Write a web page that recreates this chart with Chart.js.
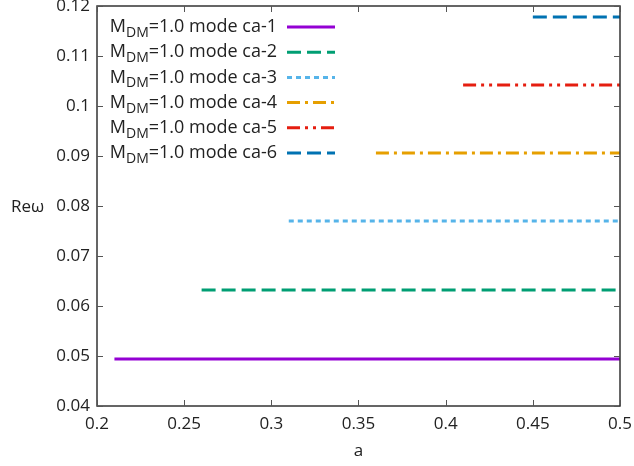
<!DOCTYPE html>
<html>
<head>
<meta charset="utf-8">
<script src="https://cdn.jsdelivr.net/npm/chart.js@4.4.0/dist/chart.umd.min.js"></script>
<style>
  html, body { margin: 0; padding: 0; background: #fff; }
  #wrap { width: 634px; height: 466px; }
</style>
</head>
<body>
<div id="wrap"><canvas id="modeChart" width="634" height="466"></canvas></div>
<script>
// Re(omega) of modes ca-1 .. ca-6 for M_DM = 1.0, vs a
const modeNames = ['ca-1', 'ca-2', 'ca-3', 'ca-4', 'ca-5', 'ca-6'];
const startA = [0.21, 0.26, 0.31, 0.36, 0.41, 0.45];
const endA = [0.5, 0.5, 0.5, 0.5, 0.5, 0.5];
const reOmega = [0.0494, 0.0632, 0.0770, 0.0906, 0.1042, 0.1178];

const xTicks = [0.2, 0.25, 0.3, 0.35, 0.4, 0.45, 0.5];
const yTicks = [0.04, 0.05, 0.06, 0.07, 0.08, 0.09, 0.1, 0.11, 0.12];

const colors = ['#9400d3', '#009e73', '#56b4e9', '#e69f00', '#e51e10', '#0072b2'];
const dashes = [[], [14, 6], [5, 4], [13, 5, 3, 5], [13, 5, 3, 5, 3, 5], [14, 6]];

const FONT = '"Open Sans", "Noto Sans", sans-serif';

let datasets = modeNames.map((name, i) => ({
    label: 'M_DM=1.0 mode ' + name,
    data: [{ x: startA[i], y: reOmega[i] }, { x: endA[i], y: reOmega[i] }],
    borderColor: colors[i],
    borderWidth: 3,
    borderDash: dashes[i],
    pointRadius: 0,
    fill: false
}));

// frame, inward ticks (gnuplot style), legend with subscripts, y title
const gnuplotLook = {
    id: 'gnuplotLook',
    afterDraw(chart) {
        let ctx = chart.ctx;
        let area = chart.chartArea;
        let xs = chart.scales.x;
        let ys = chart.scales.y;
        ctx.save();
        ctx.strokeStyle = '#333';
        ctx.lineWidth = 1.5;
        ctx.setLineDash([]);
        ctx.strokeRect(area.left, area.top, area.right - area.left, area.bottom - area.top);

        ctx.lineWidth = 1;
        ctx.strokeStyle = '#555';
        let tl = 6;
        ctx.beginPath();
        xTicks.forEach(v => {
            let px = Math.round(xs.getPixelForValue(v)) + 0.5;
            ctx.moveTo(px, area.bottom); ctx.lineTo(px, area.bottom - tl);
            ctx.moveTo(px, area.top); ctx.lineTo(px, area.top + tl);
        });
        yTicks.forEach(v => {
            let py = Math.round(ys.getPixelForValue(v)) + 0.5;
            ctx.moveTo(area.left, py); ctx.lineTo(area.left + tl, py);
            ctx.moveTo(area.right, py); ctx.lineTo(area.right - tl, py);
        });
        ctx.stroke();

        // y title, horizontal like gnuplot
        ctx.fillStyle = '#222';
        ctx.font = '17px ' + FONT;
        ctx.textAlign = 'left';
        ctx.textBaseline = 'middle';
        ctx.fillText('Reω', 11, ys.getPixelForValue(0.0797));

        // legend
        let textRight = area.left + 180;
        let sampleL = area.left + 190;
        let sampleR = area.left + 238;
        modeNames.forEach((name, i) => {
            let y = area.top + 21 + i * 25.2;
            let tail = '=1.0 mode ' + name;
            ctx.font = '18px ' + FONT;
            let wTail = ctx.measureText(tail).width;
            let wM = ctx.measureText('M').width;
            ctx.font = '14px ' + FONT;
            let wSub = ctx.measureText('DM').width;
            let x0 = textRight - wTail - wSub - wM;
            ctx.fillStyle = '#222';
            ctx.textAlign = 'left';
            ctx.textBaseline = 'middle';
            ctx.font = '18px ' + FONT;
            ctx.fillText('M', x0, y);
            ctx.font = '14px ' + FONT;
            ctx.fillText('DM', x0 + wM, y + 6);
            ctx.font = '18px ' + FONT;
            ctx.fillText(tail, x0 + wM + wSub, y);

            ctx.strokeStyle = colors[i];
            ctx.lineWidth = 3;
            ctx.setLineDash(dashes[i]);
            ctx.beginPath();
            ctx.moveTo(sampleL, y);
            ctx.lineTo(sampleR, y);
            ctx.stroke();
        });
        ctx.restore();
    }
};

let ctx = document.getElementById('modeChart').getContext('2d');
let modeChart = new Chart(ctx, {
    type: 'line',
    data: { datasets: datasets },
    options: {
        responsive: false,
        animation: false,
        layout: { padding: { top: 6, right: 14, left: 0, bottom: 0 } },
        scales: {
            x: {
                type: 'linear',
                min: 0.2,
                max: 0.5,
                afterBuildTicks: scale => { scale.ticks = xTicks.map(v => ({ value: v })); },
                afterFit: scale => {
                    scale.height = 60;
                    scale.paddingLeft = 0;
                    scale.paddingRight = 0;
                },
                grid: { display: false, drawTicks: false },
                border: { display: false },
                ticks: {
                    padding: 8,
                    color: '#222',
                    font: { family: FONT, size: 17 },
                    maxRotation: 0,
                    autoSkip: false,
                    callback: v => String(parseFloat(Number(v).toFixed(2)))
                },
                title: {
                    display: true,
                    text: 'a',
                    color: '#222',
                    font: { family: FONT, size: 17 },
                    padding: { top: 0, bottom: 5 }
                }
            },
            y: {
                type: 'linear',
                min: 0.04,
                max: 0.12,
                afterBuildTicks: scale => { scale.ticks = yTicks.map(v => ({ value: v })); },
                afterFit: scale => {
                    scale.width = 97;
                    scale.paddingTop = 0;
                    scale.paddingBottom = 0;
                },
                grid: { display: false, drawTicks: false },
                border: { display: false },
                ticks: {
                    padding: 7,
                    color: '#222',
                    font: { family: FONT, size: 17 },
                    autoSkip: false,
                    callback: v => String(parseFloat(Number(v).toFixed(2)))
                }
            }
        },
        plugins: {
            legend: { display: false },
            tooltip: { enabled: false }
        }
    },
    plugins: [gnuplotLook]
});
</script>
</body>
</html>
